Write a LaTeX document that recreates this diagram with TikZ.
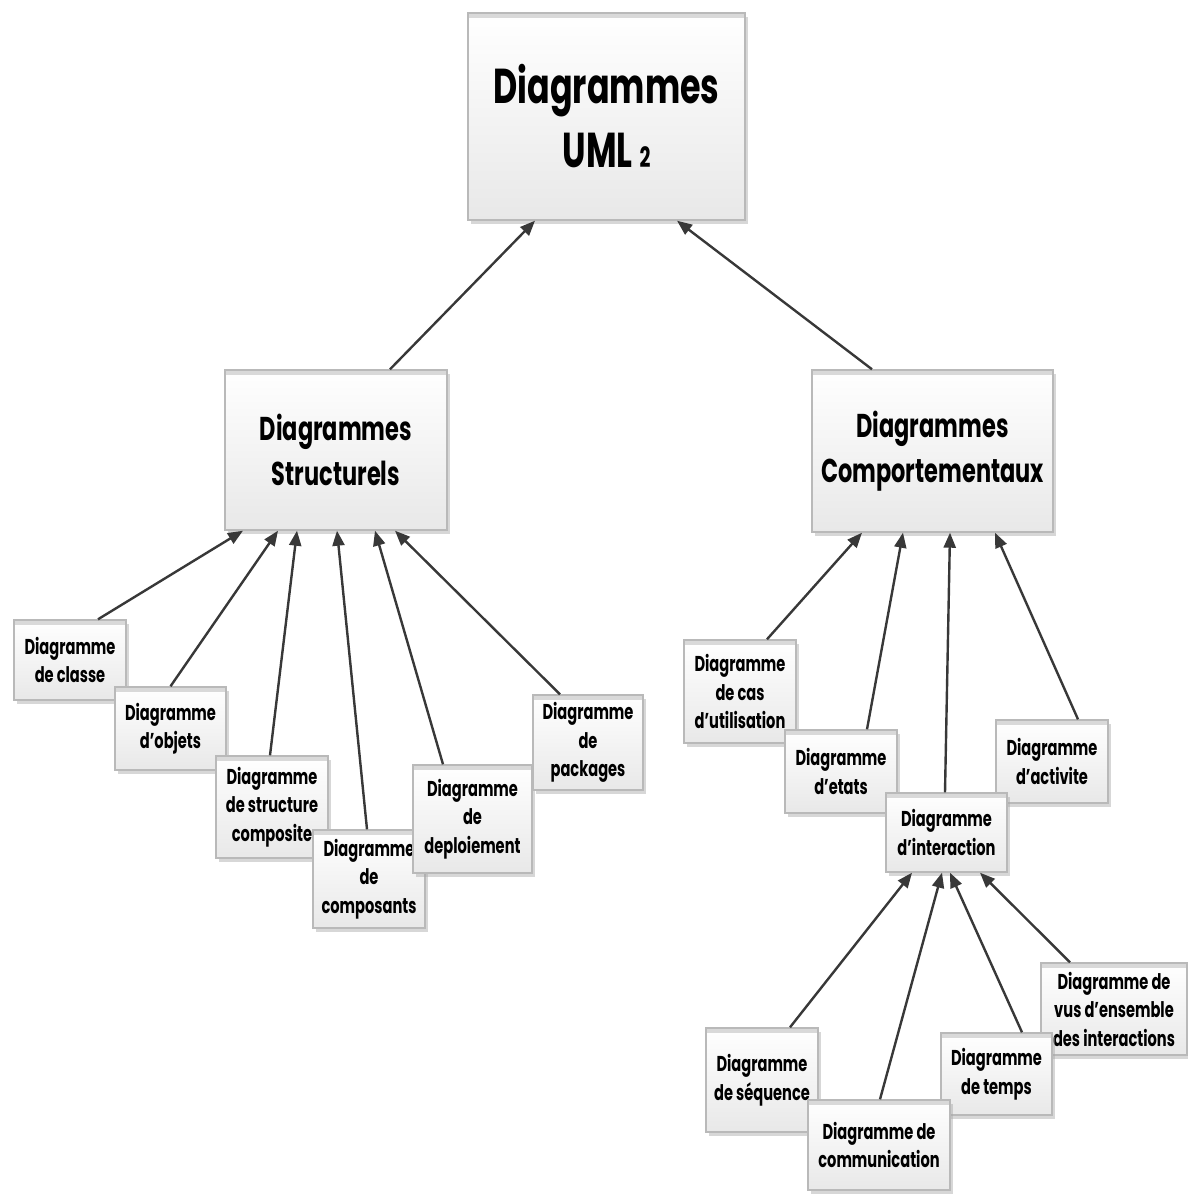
\documentclass[tikz,border=0pt]{standalone}
\usepackage{fontspec}
\setmainfont{Poppins}[FakeStretch=0.68]
\usetikzlibrary{arrows.meta,shadows}

\begin{document}
\begin{tikzpicture}[x=1pt,y=-1pt,
  card/.style={draw=gray!55, line width=1.4pt, rectangle, inner sep=0pt,
    top color=white, bottom color=gray!18, align=center, font=\bfseries,
    drop shadow={shadow xshift=3pt, shadow yshift=-4pt, fill=gray!70, opacity=0.45},
    path picture={\fill[gray!30] (path picture bounding box.north west)
      rectangle ([yshift=-5pt]path picture bounding box.north east);}},
  rootcard/.style={card, font=\bfseries\fontsize{49}{64}\selectfont},
  midcard/.style={card, font=\bfseries\fontsize{33}{45}\selectfont},
  leaf/.style={card, font=\bfseries\fontsize{21.5}{28.5}\selectfont},
  link/.style={draw=black!78, line width=2.4pt,
    -{Triangle[length=15pt,width=12pt]}}
]
\useasboundingbox (0,0) rectangle (1187,1194);

% top level
\node[rootcard, minimum width=277pt, minimum height=207pt] (root) at (606.5,116.5)
  {Diagrammes\\UML {\fontsize{28}{28}\selectfont 2}};

% two families
\node[midcard, minimum width=222pt, minimum height=160pt] (struct) at (336,450)
  {Diagrammes\\Structurels};
\node[midcard, minimum width=241pt, minimum height=162pt] (behav) at (932.5,451)
  {Diagrammes\\Comportementaux};

% structural diagrams
\node[leaf, minimum width=112pt, minimum height=80pt]  (classe) at (70,660) {Diagramme\\de classe};
\node[leaf, minimum width=111pt, minimum height=83pt]  (objets) at (170.5,728.5) {Diagramme\\d’objets};
\node[leaf, minimum width=112pt, minimum height=102pt] (compo) at (272,807) {Diagramme\\de structure\\composite};
\node[leaf, minimum width=112pt, minimum height=98pt]  (compos) at (369,879) {Diagramme\\de\\composants};
\node[leaf, minimum width=119pt, minimum height=108pt] (deploi) at (472.5,819) {Diagramme\\de\\deploiement};
\node[leaf, minimum width=110pt, minimum height=95pt]  (pack) at (588,742.5) {Diagramme\\de\\packages};

% behavioural diagrams
\node[leaf, minimum width=112pt, minimum height=103pt] (cas) at (740,691.5) {Diagramme\\de cas\\d’utilisation};
\node[leaf, minimum width=112pt, minimum height=83pt]  (etats) at (841,771.5) {Diagramme\\d’etats};
\node[leaf, minimum width=112pt, minimum height=83pt]  (activ) at (1052,761.5) {Diagramme\\d’activite};
\node[leaf, minimum width=121pt, minimum height=79pt]  (inter) at (946.5,832.5) {Diagramme\\d’interaction};

% interaction diagrams
\node[leaf, minimum width=146pt, minimum height=92pt]  (vue) at (1114,1009) {Diagramme de\\vus d’ensemble\\des interactions};
\node[leaf, minimum width=112pt, minimum height=104pt] (seq) at (762,1080) {Diagramme\\de séquence};
\node[leaf, minimum width=111pt, minimum height=82pt]  (temps) at (996.5,1074) {Diagramme\\de temps};
\node[leaf, minimum width=142pt, minimum height=90pt]  (comm) at (879,1145) {Diagramme de\\communication};

% generalisation links
\draw[link] ([xshift=54pt]struct.north) -- ([xshift=-71.5pt]root.south);
\draw[link] ([xshift=-60.5pt]behav.north) -- ([xshift=70.5pt]root.south);

\draw[link] ([xshift=28pt]classe.north) -- ([xshift=-93pt]struct.south);
\draw[link] (objets.north) -- ([xshift=-58pt]struct.south);
\draw[link] ([xshift=-2pt]compo.north) -- ([xshift=-39pt]struct.south);
\draw[link] ([xshift=-2pt]compos.north) -- ([xshift=1pt]struct.south);
\draw[link] ([xshift=-29.5pt]deploi.north) -- ([xshift=39pt]struct.south);
\draw[link] ([xshift=-28pt]pack.north) -- ([xshift=59pt]struct.south);

\draw[link] ([xshift=27pt]cas.north) -- ([xshift=-70.5pt]behav.south);
\draw[link] ([xshift=26pt]etats.north) -- ([xshift=-29.5pt]behav.south);
\draw[link] ([xshift=-1.5pt]inter.north) -- ([xshift=17.5pt]behav.south);
\draw[link] ([xshift=26pt]activ.north) -- ([xshift=62.5pt]behav.south);

\draw[link] ([xshift=28pt]seq.north) -- ([xshift=-34.5pt]inter.south);
\draw[link] ([xshift=1pt]comm.north) -- ([xshift=-4.5pt]inter.south);
\draw[link] ([xshift=25.5pt]temps.north) -- ([xshift=3.5pt]inter.south);
\draw[link] ([xshift=-44pt]vue.north) -- ([xshift=33.5pt]inter.south);
\end{tikzpicture}
\end{document}
